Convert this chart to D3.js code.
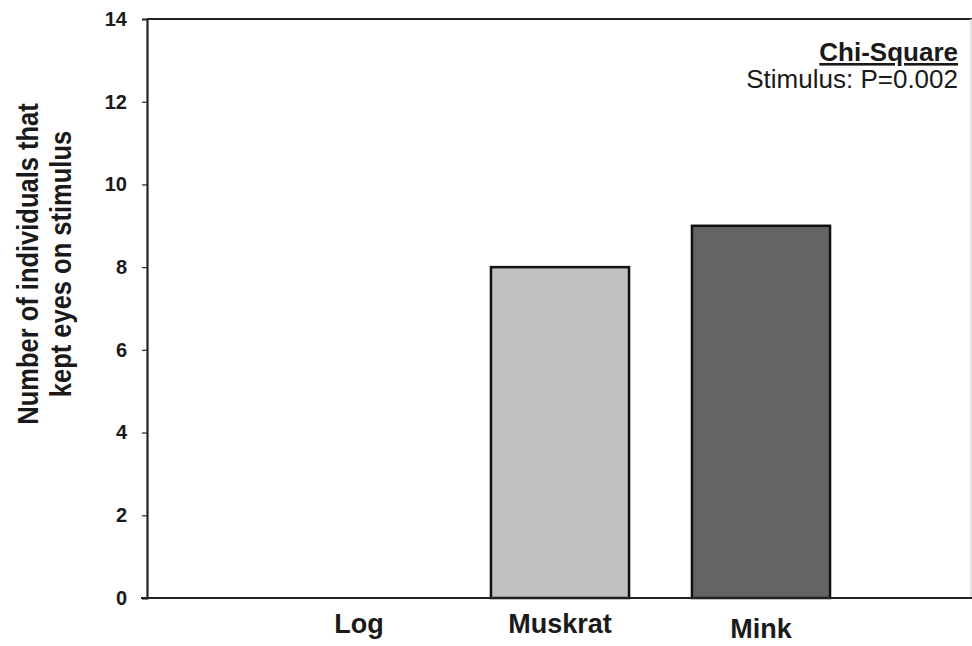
<!DOCTYPE html>
<html><head><meta charset="utf-8">
<script src="https://cdn.jsdelivr.net/npm/d3@7"></script>
<style>body{margin:0;background:#fff;} svg{display:block;font-family:"Liberation Sans",Arial,sans-serif;}</style>
</head><body>
<svg id="c" width="972" height="646"></svg>
<script>
const categories = ["Log", "Muskrat", "Mink"];
const values = [0, 8, 9];
const fills = ["#ffffff", "#c0c0c0", "#646464"];
const yTicks = [0, 2, 4, 6, 8, 10, 12, 14];
const yTitle = ["Number of individuals that", "kept eyes on stimulus"];
const noteTitle = "Chi-Square";
const noteText = "Stimulus: P=0.002";

(function(){
const svg = d3.select("#c");
const pLeft = 147, pRight = 971, pTop = 19, pBottom = 598;

const y = d3.scaleLinear().domain([0, 14]).range([pBottom, pTop]);
const x = d3.scaleBand().domain(categories).range([258.5, 861.5]).paddingInner(0.313).paddingOuter(0.1565);

// bars
svg.append("g").selectAll("rect").data(categories.map((c,i)=>({c, v: values[i], f: fills[i]})).filter(d=>d.v>0))
  .join("rect")
  .attr("x", d => x(d.c)).attr("width", x.bandwidth())
  .attr("y", d => y(d.v)).attr("height", d => y(0) - y(d.v))
  .attr("fill", d => d.f).attr("stroke", "#111").attr("stroke-width", 2.5);

// frame
svg.append("line").attr("x1", pLeft).attr("x2", 972).attr("y1", pTop).attr("y2", pTop).attr("stroke", "#222").attr("stroke-width", 2.2);
svg.append("line").attr("x1", pRight).attr("x2", pRight).attr("y1", pTop).attr("y2", pBottom).attr("stroke", "#d8d8d8").attr("stroke-width", 1.5);

// y axis
const yAxis = svg.append("g").attr("transform", `translate(${pLeft},0)`)
  .call(d3.axisLeft(y).tickValues(yTicks).tickSize(5).tickPadding(15));
yAxis.select(".domain").attr("stroke", "#222").attr("stroke-width", 2.2);
yAxis.selectAll(".tick line").attr("stroke", "#333").attr("stroke-width", 1.3);
yAxis.selectAll(".tick text").attr("font-size", 20).attr("font-weight", "bold").attr("fill", "#1a1a1a")
  .attr("font-family", "'Liberation Sans', Arial, sans-serif");

// x axis
const xAxis = svg.append("g").attr("transform", `translate(0,${pBottom})`)
  .call(d3.axisBottom(x).tickSize(0).tickPadding(0));
xAxis.select(".domain").remove();
svg.append("line").attr("x1", pLeft - 6).attr("x2", 972).attr("y1", pBottom).attr("y2", pBottom).attr("stroke", "#222").attr("stroke-width", 2.2);
xAxis.selectAll(".tick text").attr("font-size", 27).attr("font-weight", "bold").attr("fill", "#1a1a1a")
  .attr("font-family", "'Liberation Sans', Arial, sans-serif")
  .attr("dy", null)
  .attr("y", d => d === "Mink" ? 40 : 35);

// y title
const yt = svg.append("text").attr("transform", "translate(0,264) rotate(-90) scale(0.85,1)")
  .attr("text-anchor", "middle").attr("font-size", 30).attr("font-weight", "bold").attr("fill", "#1a1a1a");
yt.selectAll("tspan").data(yTitle).join("tspan")
  .attr("x", 0).attr("y", (d,i) => i === 0 ? 38 : 71).text(d => d);

// annotation
svg.append("text").attr("x", 958).attr("y", 61).attr("text-anchor", "end")
  .attr("font-size", 26).attr("font-weight", "bold").attr("fill", "#1a1a1a")
  .attr("text-decoration", "underline").text(noteTitle);
svg.append("text").attr("x", 958).attr("y", 88).attr("text-anchor", "end")
  .attr("font-size", 26).attr("fill", "#1a1a1a").text(noteText);
})();
</script>
</body></html>
